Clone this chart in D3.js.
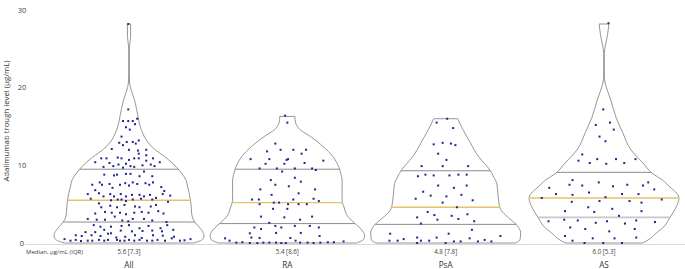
<!DOCTYPE html>
<html>
<head>
<meta charset="utf-8">
<script src="https://cdn.jsdelivr.net/npm/d3@7"></script>
<style>
  body { margin: 0; background: #fff; }
  text { font-family: "Open Sans", "Liberation Sans", sans-serif; }
</style>
</head>
<body>
<div id="chart"></div>
<script>
var groups = ["All", "RA", "PsA", "AS"];
var medianLabels = ["5.6 [7.3]", "5.4 [8.6]", "4.8 [7.8]", "6.0 [5.3]"];
var yTicks = [0, 10, 20, 30];

// quartiles as drawn (µg/mL)
var q1 = [2.7, 2.5, 2.4, 3.3];
var med = [5.5, 5.2, 4.6, 5.8];
var q3 = [9.5, 9.5, 9.3, 9.1];

// violin outlines: [level, relative density]
var allShape = [[0.0, 0.86], [0.4, 0.97], [0.9, 1.0], [1.5, 0.98], [2.1, 0.93], [2.8, 0.87], [3.5, 0.84],
  [4.5, 0.83], [5.5, 0.82], [6.5, 0.80], [7.3, 0.78], [8.1, 0.76], [9.0, 0.70], [9.8, 0.63], [10.7, 0.53],
  [11.3, 0.45], [12.0, 0.35], [13.0, 0.25], [14.2, 0.18], [15.0, 0.15], [16.3, 0.12], [17.3, 0.10],
  [18.5, 0.07], [19.5, 0.035], [20.6, 0.008], [21.5, 0.004], [25.0, 0.004], [25.8, 0.012], [26.6, 0.02], [28.2, 0.022]];
var raShape = [[0.0, 0.92], [0.5, 1.02], [1.0, 1.03], [1.7, 0.99], [2.7, 0.88], [3.5, 0.80], [4.5, 0.76],
  [5.5, 0.73], [6.5, 0.73], [8.1, 0.73], [9.0, 0.71], [9.7, 0.69], [10.5, 0.65], [11.1, 0.61], [12.4, 0.48],
  [13.7, 0.31], [14.6, 0.17], [15.5, 0.11], [16.3, 0.10]];
var psaShape = [[0.0, 0.93], [0.4, 0.99], [1.3, 1.0], [2.3, 0.95], [3.4, 0.82], [4.2, 0.74], [4.7, 0.72],
  [6.0, 0.70], [7.7, 0.68], [8.5, 0.64], [9.4, 0.59], [10.2, 0.52], [11.1, 0.44], [12.0, 0.38], [12.9, 0.33],
  [14.6, 0.23], [16.0, 0.16]];
var asShape = [[0.0, 0.52], [0.6, 0.62], [1.3, 0.70], [2.1, 0.80], [3.0, 0.86], [3.9, 0.92], [4.8, 0.97],
  [5.7, 1.0], [6.4, 0.97], [7.2, 0.88], [8.1, 0.78], [9.0, 0.64], [10.3, 0.52], [11.2, 0.43], [12.0, 0.36],
  [14.2, 0.25], [16.2, 0.16], [18.4, 0.09], [19.5, 0.05], [20.6, 0.015], [21.5, 0.004], [24.4, 0.004],
  [25.5, 0.02], [26.7, 0.045], [28.2, 0.065]];

// trough levels (µg/mL) and their horizontal jitter (fraction of violin half width)
var allVals = [28.2, 17.2, 15.7, 15.7, 15.7, 16.0, 14.9, 14.6, 15.3, 13.7, 12.9, 12.6, 13.0, 13.0, 12.8, 13.2,
  12.1, 12.0, 11.9, 12.0, 10.9, 10.9, 10.3, 11.0, 10.9, 10.2, 10.7, 10.9, 11.5, 10.9, 11.3, 10.6, 10.9, 10.4,
  10.4, 9.8, 9.9, 10.1, 9.7, 9.9, 9.8, 10.0, 10.1, 9.9,
  8.8, 8.7, 8.8, 8.9, 8.9, 8.6, 9.2, 8.6,
  7.5, 7.8, 7.5, 7.6, 7.1, 7.5, 7.7, 7.4, 7.8, 7.6, 7.7, 7.5, 7.8, 7.2, 6.7,
  6.3, 6.8, 6.4, 6.0, 6.3, 6.0, 6.3, 6.0, 6.2, 6.2, 6.0, 6.2, 5.8, 6.3, 6.1,
  5.7, 5.1, 5.5, 5.6, 5.6, 5.4, 5.6, 5.7, 5.6, 5.3,
  4.6, 4.8, 4.6, 4.9, 4.7, 4.6, 4.7, 4.9,
  3.8, 4.0, 3.9, 3.9, 3.7, 3.9, 4.0, 3.9, 4.1, 3.8,
  3.1, 3.0, 3.0, 3.4, 2.9, 2.8, 3.1, 3.1, 2.9, 2.7,
  2.3, 2.1, 2.1, 2.2, 2.3, 1.9, 2.2, 1.9, 2.3,
  1.4, 1.4, 1.7, 1.25, 1.6, 1.5, 1.55, 1.6, 1.5, 1.7,
  1.0, 0.9, 1.0, 0.9, 1.2, 0.7, 0.8, 1.0, 0.65, 1.0, 0.95, 0.8,
  0.5, 0.3, 0.4, 0.25, 0.3, 0.3, 0.4, 0.3, 0.4, 0.4, 0.3, 0.3, 0.4, 0.3, 0.4, 0.3, 0.3, 0.4, 0.3, 0.6, 0.3, 0.35, 0.5];
var allJitter = [-0.01, -0.01, -0.08, -0.01, 0.05, 0.11, -0.04, 0.01, 0.08, -0.10, -0.13, -0.08, -0.03, 0.05, 0.09, 0.13,
  -0.23, 0.00, 0.12, 0.23, -0.37, -0.30, -0.26, -0.15, -0.10, -0.04, 0.00, 0.07, 0.13, 0.13, 0.23, 0.23, 0.32, 0.41,
  -0.45, -0.34, -0.21, -0.14, -0.08, 0.02, 0.07, 0.18, 0.29, 0.34,
  -0.33, -0.20, -0.16, -0.04, 0.02, 0.14, 0.20, 0.31,
  -0.49, -0.39, -0.36, -0.26, -0.22, -0.12, -0.05, 0.00, 0.05, 0.11, 0.22, 0.27, 0.32, 0.43, 0.47,
  -0.55, -0.45, -0.40, -0.34, -0.25, -0.20, -0.11, -0.04, 0.04, 0.14, 0.20, 0.28, 0.36, 0.45, 0.55,
  -0.51, -0.40, -0.24, -0.15, -0.10, -0.04, 0.05, 0.16, 0.31, 0.52,
  -0.37, -0.25, -0.16, -0.06, 0.08, 0.14, 0.29, 0.36,
  -0.45, -0.32, -0.23, -0.12, -0.04, 0.07, 0.17, 0.26, 0.39, 0.46,
  -0.55, -0.43, -0.32, -0.19, -0.09, -0.01, 0.05, 0.20, 0.31, 0.50,
  -0.47, -0.38, -0.24, -0.10, 0.00, 0.14, 0.26, 0.42, 0.51,
  -0.58, -0.45, -0.33, -0.24, -0.11, 0.04, 0.18, 0.31, 0.44, 0.59,
  -0.71, -0.63, -0.50, -0.38, -0.28, -0.17, -0.05, 0.08, 0.17, 0.32, 0.45, 0.60,
  -0.86, -0.78, -0.71, -0.64, -0.55, -0.49, -0.40, -0.33, -0.28, -0.16, -0.12, -0.06, 0.00, 0.07, 0.14, 0.24, 0.31, 0.38, 0.48, 0.57, 0.68, 0.74, 0.82];

var raVals = [16.4, 15.5, 12.8, 11.8, 12.0, 12.0, 12.0, 11.5, 10.8, 10.8, 10.7, 10.8, 10.3, 10.6, 10.2, 10.2,
  9.6, 9.6, 9.6, 9.6, 9.4, 9.2, 8.1, 8.4, 7.9, 7.5, 7.3, 6.9, 6.9, 6.4, 6.2,
  5.6, 5.6, 5.6, 5.7, 5.4, 5.2, 5.2, 5.0, 5.0, 5.0, 5.0, 4.4, 4.4,
  3.4, 3.3, 3.0, 3.4, 2.6, 2.0, 1.8, 2.2, 2.0, 2.2, 2.2, 2.0, 1.25, 1.3, 1.3,
  0.7, 0.65, 0.65, 0.9, 0.6, 0.3, 0.05, 0.1, 0.0, 0.0, 0.05, 0.05, 0.05, 0.0, 0.0, 0.3, 0.05, 0.05, 0.0, 0.05, 0.1, 0.1, 0.2];
var raJitter = [-0.03, 0.00, -0.16, -0.27, -0.09, 0.08, 0.25, 0.19, -0.49, -0.24, -0.01, 0.01, 0.23, 0.48, -0.29, -0.04,
  -0.37, -0.14, 0.10, 0.33, 0.38, -0.07, -0.22, 0.10, 0.18, -0.16, 0.02, -0.36, 0.37, 0.15, -0.21,
  -0.47, -0.38, 0.08, 0.35, 0.42, -0.18, -0.11, -0.37, 0.01, 0.15, 0.26, -0.19, 0.00,
  -0.35, -0.04, 0.17, 0.33, -0.24, -0.44, -0.35, -0.16, -0.08, 0.10, 0.30, 0.42, -0.50, -0.15, 0.18,
  -0.48, -0.37, 0.04, 0.43, -0.83, -0.77, -0.68, -0.60, -0.50, -0.40, -0.32, -0.24, -0.15, -0.08, -0.02, 0.11, 0.17, 0.27, 0.35, 0.44, 0.54, 0.62, 0.75];

var psaVals = [16.0, 15.5, 14.8, 12.7, 12.9, 12.8, 12.6, 11.5, 10.7, 9.9, 9.9, 9.9,
  8.6, 8.8, 8.7, 8.7, 8.8, 8.8, 7.4, 7.1, 7.4, 6.6, 6.1, 6.0, 6.2, 5.7, 5.2, 5.5, 4.6,
  4.0, 3.3, 3.6, 3.0, 3.5, 3.7, 2.5, 3.1, 2.8, 1.7, 1.2, 1.2, 0.7, 0.7,
  0.3, 0.3, 0.5, 0.0, 0.3, 0.3, 0.0, 0.2, 0.2, 0.6, 0.2, 0.4, 0.2, 0.9];
var psaJitter = [0.02, -0.12, 0.10, -0.16, -0.04, 0.07, 0.13, -0.10, 0.01, -0.32, -0.04, 0.30,
  -0.37, -0.27, -0.16, 0.05, 0.17, 0.28, -0.10, 0.11, 0.28, -0.30, -0.20, 0.01, 0.21, -0.40, -0.04, 0.36, 0.15,
  -0.24, -0.38, -0.15, -0.11, 0.08, 0.29, -0.33, 0.17, 0.38, 0.35, -0.74, 0.04, -0.38, -0.12,
  -0.75, -0.64, -0.56, -0.38, -0.33, -0.22, 0.00, 0.11, 0.20, 0.32, 0.43, 0.52, 0.61, 0.73];

var asVals = [28.3, 17.2, 15.2, 15.5, 14.6, 13.7, 13.1, 11.4, 10.6, 10.3, 10.8, 10.2, 10.8, 10.3, 10.8,
  8.1, 7.5, 7.4, 7.8, 7.3, 7.5, 7.4, 7.8, 7.1, 6.3, 6.2, 6.5, 6.3, 6.3, 6.9,
  5.8, 5.9, 5.6, 5.3, 5.4, 5.4, 5.2, 4.1, 4.6, 4.0, 4.4, 4.1, 3.5,
  2.8, 3.0, 2.9, 2.6, 2.8, 2.5, 2.9, 2.7, 2.0, 1.8, 1.5, 1.8, 0.9, 0.6, 0.6, 0.7, 0.3, 0.0, 0.0, 0.0];
var asJitter = [0.06, -0.01, -0.11, 0.08, 0.13, -0.06, 0.02, -0.29, -0.34, -0.19, -0.09, 0.03, 0.16, 0.27, 0.42,
  -0.42, -0.46, -0.29, -0.07, 0.12, 0.31, 0.52, 0.59, -0.73, -0.64, -0.42, -0.20, 0.24, 0.46, 0.67,
  -0.83, 0.02, 0.77, -0.43, -0.06, 0.34, 0.50, -0.52, -0.21, -0.13, 0.11, 0.50, 0.20,
  -0.74, -0.53, -0.35, -0.11, 0.04, 0.28, 0.43, 0.68, -0.45, -0.25, 0.07, 0.41, -0.52, -0.15, 0.14, 0.43, -0.42, -0.01, 0.24, -0.26];

var shapes = [allShape, raShape, psaShape, asShape];
var vals = [allVals, raVals, psaVals, asVals];
var jitters = [allJitter, raJitter, psaJitter, asJitter];

var width = 685, height = 269;

var svg = d3.select("#chart")
  .append("svg")
    .attr("width", width)
    .attr("height", height);

var y = d3.scaleLinear().domain([0, 30]).range([243, 10]);
var x = d3.scalePoint().domain(groups).range([129, 604]);
var w = d3.scaleLinear().domain([0, 1]).range([0, 75]);

// baseline
svg.append("line")
  .attr("x1", 25).attr("x2", width)
  .attr("y1", y(0) + 1.5).attr("y2", y(0) + 1.5)
  .attr("stroke", "#d9d9d9").attr("stroke-width", 1);

// y tick labels only
svg.selectAll(".ytick")
  .data(yTicks)
  .enter().append("text")
    .attr("class", "ytick")
    .attr("x", 22)
    .attr("y", function(d) { return y(d); })
    .attr("dy", "0.35em")
    .attr("text-anchor", "middle")
    .attr("font-size", 7.5)
    .attr("fill", "#404040")
    .text(function(d) { return d; });

svg.append("text")
  .attr("transform", "translate(9,121) rotate(-90)")
  .attr("text-anchor", "middle")
  .attr("font-size", 7.8)
  .attr("fill", "#333")
  .text("Adalimumab trough level (µg/mL)");

function halfAt(shape, v) {
  for (var i = 1; i < shape.length; i++) {
    if (v <= shape[i][0]) {
      var a = shape[i - 1], b = shape[i];
      var t = (v - a[0]) / (b[0] - a[0]);
      return a[1] + t * (b[1] - a[1]);
    }
  }
  return shape[shape.length - 1][1];
}

groups.forEach(function(g, i) {
  var cx = x(g);
  var shape = shapes[i];

  var area = d3.area()
    .y(function(d) { return y(d[0]); })
    .x0(function(d) { return cx - w(d[1]); })
    .x1(function(d) { return cx + w(d[1]); })
    .curve(d3.curveMonotoneY);

  svg.append("path")
    .datum(shape)
    .attr("d", area)
    .attr("fill", "none")
    .attr("stroke", "#8a8a8a")
    .attr("stroke-width", 0.9);

  // quartile lines
  [q1[i], q3[i]].forEach(function(q) {
    var hw = w(halfAt(shape, q));
    svg.append("line")
      .attr("x1", cx - hw).attr("x2", cx + hw)
      .attr("y1", y(q)).attr("y2", y(q))
      .attr("stroke", (g === "AS" && q === q1[i]) ? "#c8c8c8" : "#8c8c8c")
      .attr("stroke-width", (g === "AS" && q === q1[i]) ? 1.6 : 1);
  });
  var mw = w(halfAt(shape, med[i]));
  svg.append("line")
    .attr("x1", cx - mw).attr("x2", cx + mw)
    .attr("y1", y(med[i])).attr("y2", y(med[i]))
    .attr("stroke", "#e3c46a")
    .attr("stroke-width", 1.4);

  // points
  svg.selectAll(".pt" + i)
    .data(vals[i])
    .enter().append("rect")
      .attr("class", "pt" + i)
      .attr("x", function(d, j) { return cx + w(jitters[i][j]) - 1; })
      .attr("y", function(d) { return y(d) - 1; })
      .attr("width", 2)
      .attr("height", 2)
      .attr("fill", "#23238f");

  svg.append("text")
    .attr("x", cx).attr("y", 254)
    .attr("text-anchor", "middle")
    .attr("font-size", 6.2)
    .attr("fill", "#404040")
    .text(medianLabels[i]);

  svg.append("text")
    .attr("x", cx).attr("y", 268)
    .attr("text-anchor", "middle")
    .attr("font-size", 8.2)
    .attr("fill", "#333")
    .text(g);
});

svg.append("text")
  .attr("x", 26).attr("y", 254)
  .attr("font-size", 6)
  .attr("fill", "#404040")
  .text("Median, µg/mL (IQR)");
</script>
</body>
</html>
